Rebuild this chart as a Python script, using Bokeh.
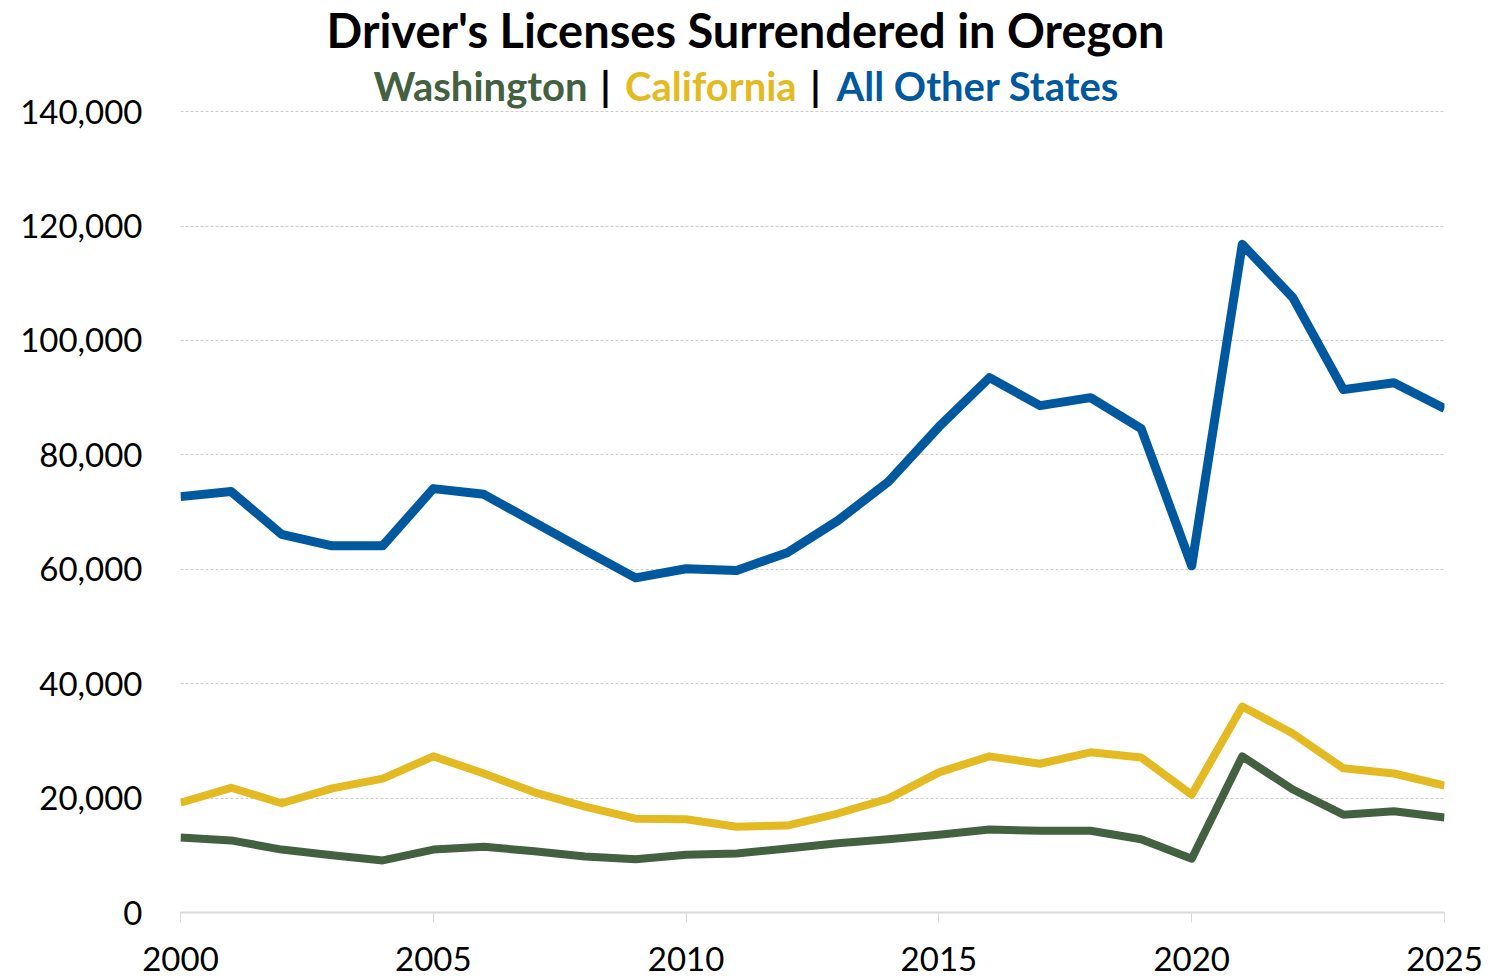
from bokeh.plotting import figure
from bokeh.models import Range1d, SingleIntervalTicker, FixedTicker, NumeralTickFormatter, Label
from bokeh.embed import file_html
from bokeh.resources import INLINE

years = list(range(2000, 2026))
washington = [13100, 12600, 11000, 10000, 9100, 11000, 11500, 10700, 9800, 9300,
              10100, 10300, 11200, 12100, 12800, 13600, 14500, 14300, 14300, 12800,
              9400, 27300, 21500, 17100, 17700, 16600]
california = [19200, 21800, 19100, 21700, 23400, 27300, 24300, 21000, 18500, 16400,
              16300, 15000, 15200, 17300, 19900, 24500, 27300, 26000, 28000, 27100,
              20600, 36000, 31300, 25200, 24300, 22200]
other_states = [72700, 73600, 66100, 64100, 64100, 74100, 73100, 68200, 63300, 58500,
                60100, 59800, 62900, 68500, 75300, 84900, 93500, 88600, 90000, 84600,
                60600, 116800, 107500, 91400, 92600, 88100]
y_ticks = [0, 20000, 40000, 60000, 80000, 100000, 120000, 140000]

title_text = "Driver's Licenses Surrendered in Oregon"
series_names = ["Washington", "California", "All Other States"]

GREEN = "#436040"
YELLOW = "#E3BA22"
BLUE = "#00589E"
FONT = "Lato"

# frame extends above the top tick so that the heading can sit inside it
p = figure(width=1483, height=976, output_backend="svg", toolbar_location=None,
           x_range=Range1d(2000, 2025), y_range=Range1d(0, 158730),
           frame_width=1264, frame_height=908,
           min_border_left=180, min_border_right=39, min_border_top=4, min_border_bottom=64)
p.outline_line_color = None
p.background_fill_color = "white"

p.line(years, washington, line_color=GREEN, line_width=8, line_join="round")
p.line(years, california, line_color=YELLOW, line_width=8, line_join="round")
p.line(years, other_states, line_color=BLUE, line_width=9, line_join="round")

# axes
p.xaxis.ticker = SingleIntervalTicker(interval=5)
p.xaxis.minor_tick_line_color = None
p.xaxis.axis_line_color = "#d9d9d9"
p.xaxis.axis_line_width = 2
p.xaxis.major_tick_line_color = "#d9d9d9"
p.xaxis.major_tick_line_width = 1
p.xaxis.major_tick_out = 10
p.xaxis.major_tick_in = 0
p.xaxis.major_label_text_font = FONT
p.xaxis.major_label_text_font_size = "33px"
p.xaxis.major_label_text_color = "black"
p.xaxis.major_label_standoff = 24

p.yaxis.ticker = FixedTicker(ticks=y_ticks)
p.yaxis.formatter = NumeralTickFormatter(format="0,0")
p.yaxis.minor_tick_line_color = None
p.yaxis.major_tick_line_color = None
p.yaxis.axis_line_color = None
p.yaxis.major_label_text_font = FONT
p.yaxis.major_label_text_font_size = "33px"
p.yaxis.major_label_text_color = "black"
p.yaxis.major_label_standoff = 32

p.xgrid.grid_line_color = None
p.ygrid.grid_line_color = "#cccccc"
p.ygrid.grid_line_width = 1
p.ygrid.grid_line_dash = "3 2"

# title + coloured subtitle
TITLE_Y = 154185
SUB_Y = 144570
common = dict(text_font=FONT, text_font_style="bold", text_baseline="middle")
p.add_layout(Label(x=2011.175, y=TITLE_Y, text=title_text, text_font_size="47px",
                   text_align="center", text_color="black", **common))
p.add_layout(Label(x=2008.05, y=SUB_Y, text=series_names[0], text_font_size="40px",
                   text_align="right", text_color=GREEN, **common))
p.add_layout(Label(x=2008.406, y=SUB_Y, text="|", text_font_size="40px",
                   text_align="center", text_color="black", **common))
p.add_layout(Label(x=2010.49, y=SUB_Y, text=series_names[1], text_font_size="40px",
                   text_align="center", text_color=YELLOW, **common))
p.add_layout(Label(x=2012.56, y=SUB_Y, text="|", text_font_size="40px",
                   text_align="center", text_color="black", **common))
p.add_layout(Label(x=2012.975, y=SUB_Y, text=series_names[2], text_font_size="40px",
                   text_align="left", text_color=BLUE, **common))

open("out.html", "w").write(file_html(p, INLINE))
